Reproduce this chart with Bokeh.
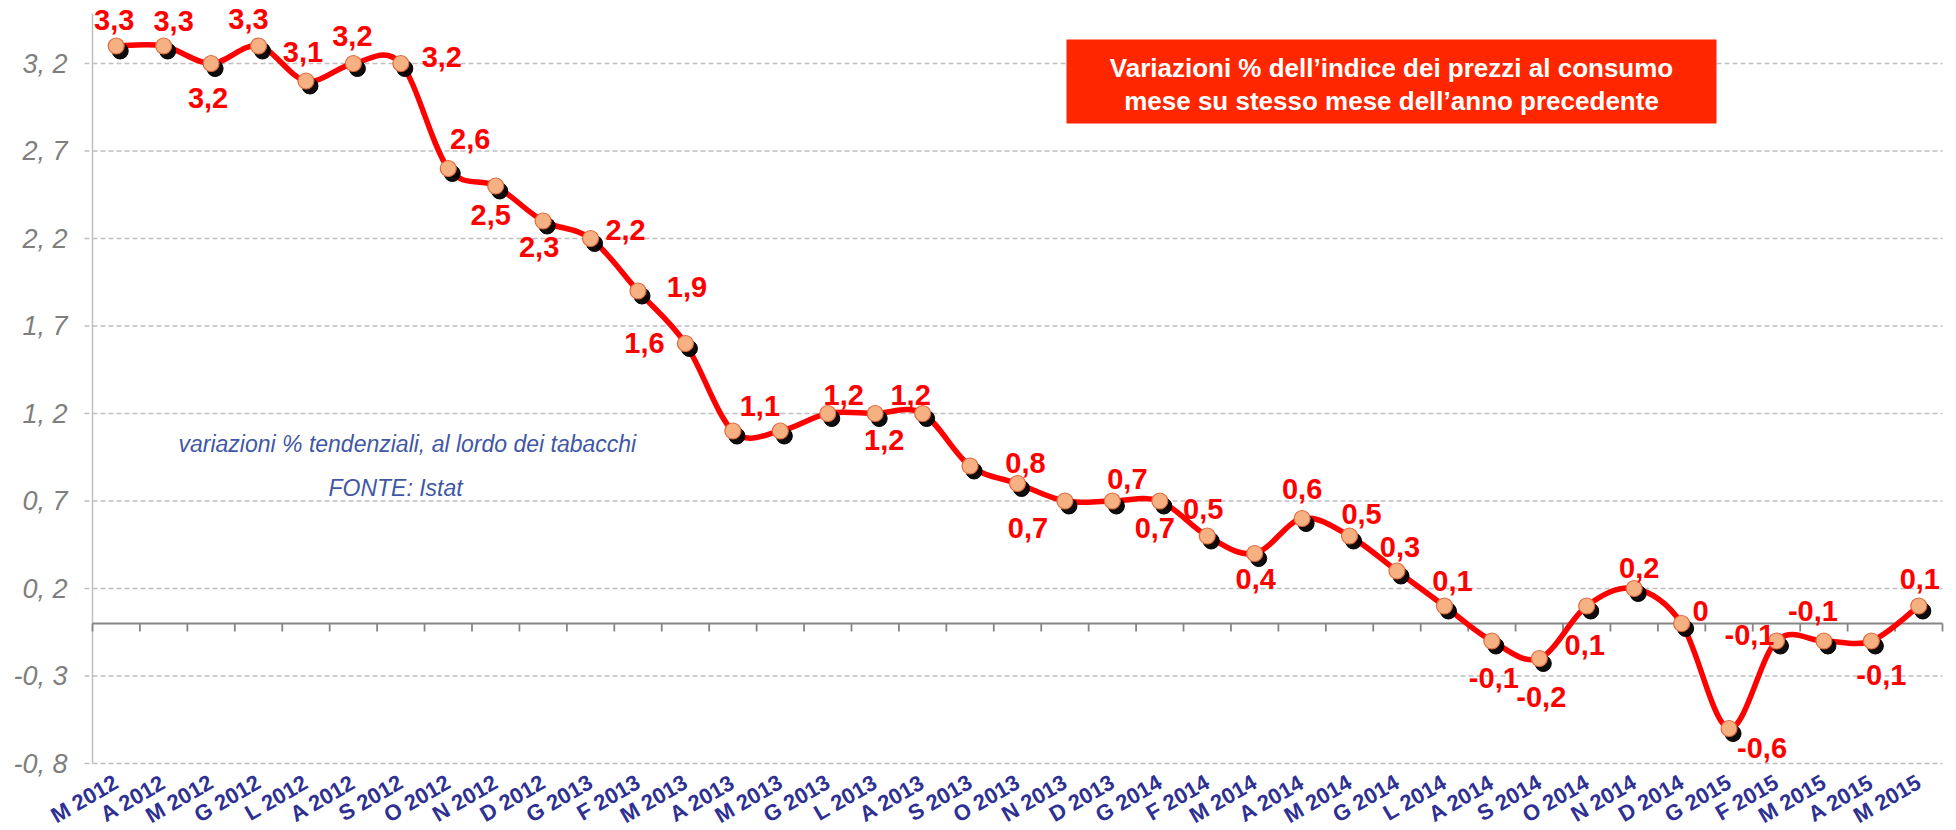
import numpy as np
from bokeh.plotting import figure
from bokeh.models import (Range1d, BoxAnnotation, Label, LabelSet, ColumnDataSource)
from bokeh.core.properties import value
from bokeh.transform import dodge
from bokeh.embed import file_html
from bokeh.resources import INLINE

# ---------------- data ----------------
months = ["M 2012", "A 2012", "M 2012", "G 2012", "L 2012", "A 2012", "S 2012",
          "O 2012", "N 2012", "D 2012",
          "G 2013", "F 2013", "M 2013", "A 2013", "M 2013", "G 2013", "L 2013",
          "A 2013", "S 2013", "O 2013", "N 2013", "D 2013",
          "G 2014", "F 2014", "M 2014", "A 2014", "M 2014", "G 2014", "L 2014",
          "A 2014", "S 2014", "O 2014", "N 2014", "D 2014",
          "G 2015", "F 2015", "M 2015", "A 2015", "M 2015"]
values = [3.3, 3.3, 3.2, 3.3, 3.1, 3.2, 3.2, 2.6, 2.5, 2.3,
          2.2, 1.9, 1.6, 1.1, 1.1, 1.2, 1.2, 1.2, 0.9, 0.8, 0.7, 0.7,
          0.7, 0.5, 0.4, 0.6, 0.5, 0.3, 0.1, -0.1, -0.2, 0.1, 0.2, 0.0,
          -0.6, -0.1, -0.1, -0.1, 0.1]
y_ticks = [-0.8, -0.3, 0.2, 0.7, 1.2, 1.7, 2.2, 2.7, 3.2]
y_tick_labels = ["-0, 8", "-0, 3", "0, 2", "0, 7", "1, 2", "1, 7", "2, 2", "2, 7", "3, 2"]
title_lines = ["Variazioni % dell\u2019indice dei prezzi al consumo",
               "mese su stesso mese dell\u2019anno precedente"]
note_lines = ["variazioni % tendenziali, al lordo dei tabacchi", "FONTE: Istat"]

# label placement (screen px, label centre relative to point; dy positive = down)
# None = no label shown
label_place = [(-2, -26), (10, -25), (-3, 34), (-10, -27), (-3, -29), (-1, -28), (41, -7),
               (22, -30), (-5, 29), (-4, 26), (35, -9), (49, -4), (-41, -1), (27, -25),
               None, (16, -19), (9, 26), (-12, -19), None, (8, -21), (-37, 27),
               (15, -22), (-5, 27), (-4, -27), (1, 25), (0, -30), (12, -22), (3, -24),
               (8, -25), (2, 37), (2, 38), (-2, 39), (5, -21), (19, -13), (33, 19),
               (-27, -6), (-11, -30), (10, 34), (1, -27)]

# ---------------- geometry ----------------
n = len(values)
FIG_W, FIG_H = 1950, 828
PLOT_L, PLOT_R = 92, 1942        # plot area, screen px
Y_TOP_TICK_PX = 63               # screen y of the top tick
px_x = (PLOT_R - PLOT_L) / n
px_y = 175.0
axis_top = y_ticks[-1] + 50 / px_y

def xd(sx):  # screen x -> data x
    return (sx - PLOT_L) / px_x - 0.5

def yd(sy):  # screen y -> data y
    return y_ticks[-1] - (sy - Y_TOP_TICK_PX) / px_y

# the frame covers the whole canvas so that no text gets clipped
p = figure(width=FIG_W, height=FIG_H, output_backend="svg", toolbar_location=None,
           x_range=Range1d(xd(0), xd(FIG_W)), y_range=Range1d(yd(FIG_H), yd(0)),
           min_border_left=0, min_border_right=0, min_border_top=0, min_border_bottom=0)
p.outline_line_color = None
p.background_fill_color = "white"
p.border_fill_color = "white"
p.xaxis.visible = False
p.yaxis.visible = False
p.xgrid.visible = False
p.ygrid.visible = False

x_left, x_right = -0.5, n - 0.5
tick_len_x = 8 / px_x

# value axis: dashed grid, axis line, tick labels
nt = len(y_ticks)
p.segment(x0=np.full(nt, x_left - tick_len_x), y0=y_ticks, x1=np.full(nt, x_right), y1=y_ticks,
          line_color="#BFBFBF", line_width=1.3, line_dash="5 3")
p.segment(x0=[x_left], y0=[y_ticks[0]], x1=[x_left], y1=[axis_top],
          line_color="#BFBFBF", line_width=1.5)
ytl_src = ColumnDataSource(dict(x=np.full(nt, x_left), y=y_ticks, t=y_tick_labels))
p.add_layout(LabelSet(x="x", y="y", text="t", source=ytl_src, x_offset=-25,
                      text_align="right", text_baseline="middle",
                      text_font=value("Liberation Sans"), text_font_style="italic",
                      text_font_size="27px", text_color="#7F7F7F"))

# category axis at zero with ticks between categories
bounds = np.arange(n + 1) - 0.5
p.segment(x0=[x_left], y0=[0], x1=[x_right], y1=[0], line_color="#868686", line_width=1.8)
p.segment(x0=bounds, y0=np.zeros(n + 1), x1=bounds, y1=np.full(n + 1, -8 / px_y),
          line_color="#868686", line_width=1.8)

# smoothed line (Bezier segments, Catmull-Rom style like Excel smoothing)
xs = np.arange(n, dtype=float)
ys = np.array(values, dtype=float)
xp = np.r_[xs[0], xs, xs[-1]]
yp = np.r_[ys[0], ys, ys[-1]]
k = 1 / 6
cx0 = xs[:-1] + (xp[2:n + 1] - xp[0:n - 1]) * k
cy0 = ys[:-1] + (yp[2:n + 1] - yp[0:n - 1]) * k
cx1 = xs[1:] - (xp[3:n + 2] - xp[1:n]) * k
cy1 = ys[1:] - (yp[3:n + 2] - yp[1:n]) * k
p.bezier(x0=xs[:-1], y0=ys[:-1], x1=xs[1:], y1=ys[1:],
         cx0=cx0, cy0=cy0, cx1=cx1, cy1=cy1, line_color="#FF0000", line_width=5.5)

src = ColumnDataSource(dict(x=xs, y=ys))
p.scatter(x=dodge("x", 4 / px_x), y=dodge("y", -5 / px_y), source=src, size=16,
          fill_color="black", line_color="black", fill_alpha=0.95)
p.scatter(x="x", y="y", source=src, size=16, fill_color="#F6B183",
          line_color="#E0683C", line_width=1.2)

# data labels
def fmt(v):
    return "0" if v == 0 else f"{v:.1f}".replace(".", ",")

lx, ly, lt, ldx, ldy = [], [], [], [], []
for i, (v, pl) in enumerate(zip(values, label_place)):
    if pl is None:
        continue
    lx.append(i); ly.append(v); lt.append(fmt(v))
    ldx.append(pl[0]); ldy.append(-pl[1])
lab_src = ColumnDataSource(dict(x=lx, y=ly, t=lt, dx=ldx, dy=ldy))
p.add_layout(LabelSet(x="x", y="y", text="t", source=lab_src, x_offset="dx", y_offset="dy",
                      text_align="center", text_baseline="middle",
                      text_font=value("Liberation Sans"), text_font_style="bold",
                      text_font_size="29px", text_color="#FF0000"))

# category labels (rotated, below the plot area)
cat_src = ColumnDataSource(dict(x=xs, y=np.full(n, y_ticks[0]), t=months))
p.add_layout(LabelSet(x="x", y="y", text="t", source=cat_src, y_offset=-17,
                      angle=np.deg2rad(30), text_align="right", text_baseline="middle",
                      text_font=value("Liberation Sans"), text_font_style="bold",
                      text_font_size="22px", text_color="#2E3192"))

# title box
p.add_layout(BoxAnnotation(left=xd(1066), right=xd(1716), top=yd(39), bottom=yd(123),
                           fill_color="#FF2600", fill_alpha=1.0, line_color=None))
for line, sy in zip(title_lines, [67, 100]):
    p.add_layout(Label(x=xd(1391), y=yd(sy), text=line, text_align="center",
                       text_baseline="middle", text_font="Liberation Sans",
                       text_font_style="bold", text_font_size="26px", text_color="white"))

# notes
for line, sx, sy in zip(note_lines, [178, 328], [443, 487]):
    p.add_layout(Label(x=xd(sx), y=yd(sy), text=line, text_align="left",
                       text_baseline="middle", text_font="Liberation Sans",
                       text_font_style="italic", text_font_size="23px", text_color="#3F57A5"))

open("out.html", "w").write(file_html(p, INLINE))
